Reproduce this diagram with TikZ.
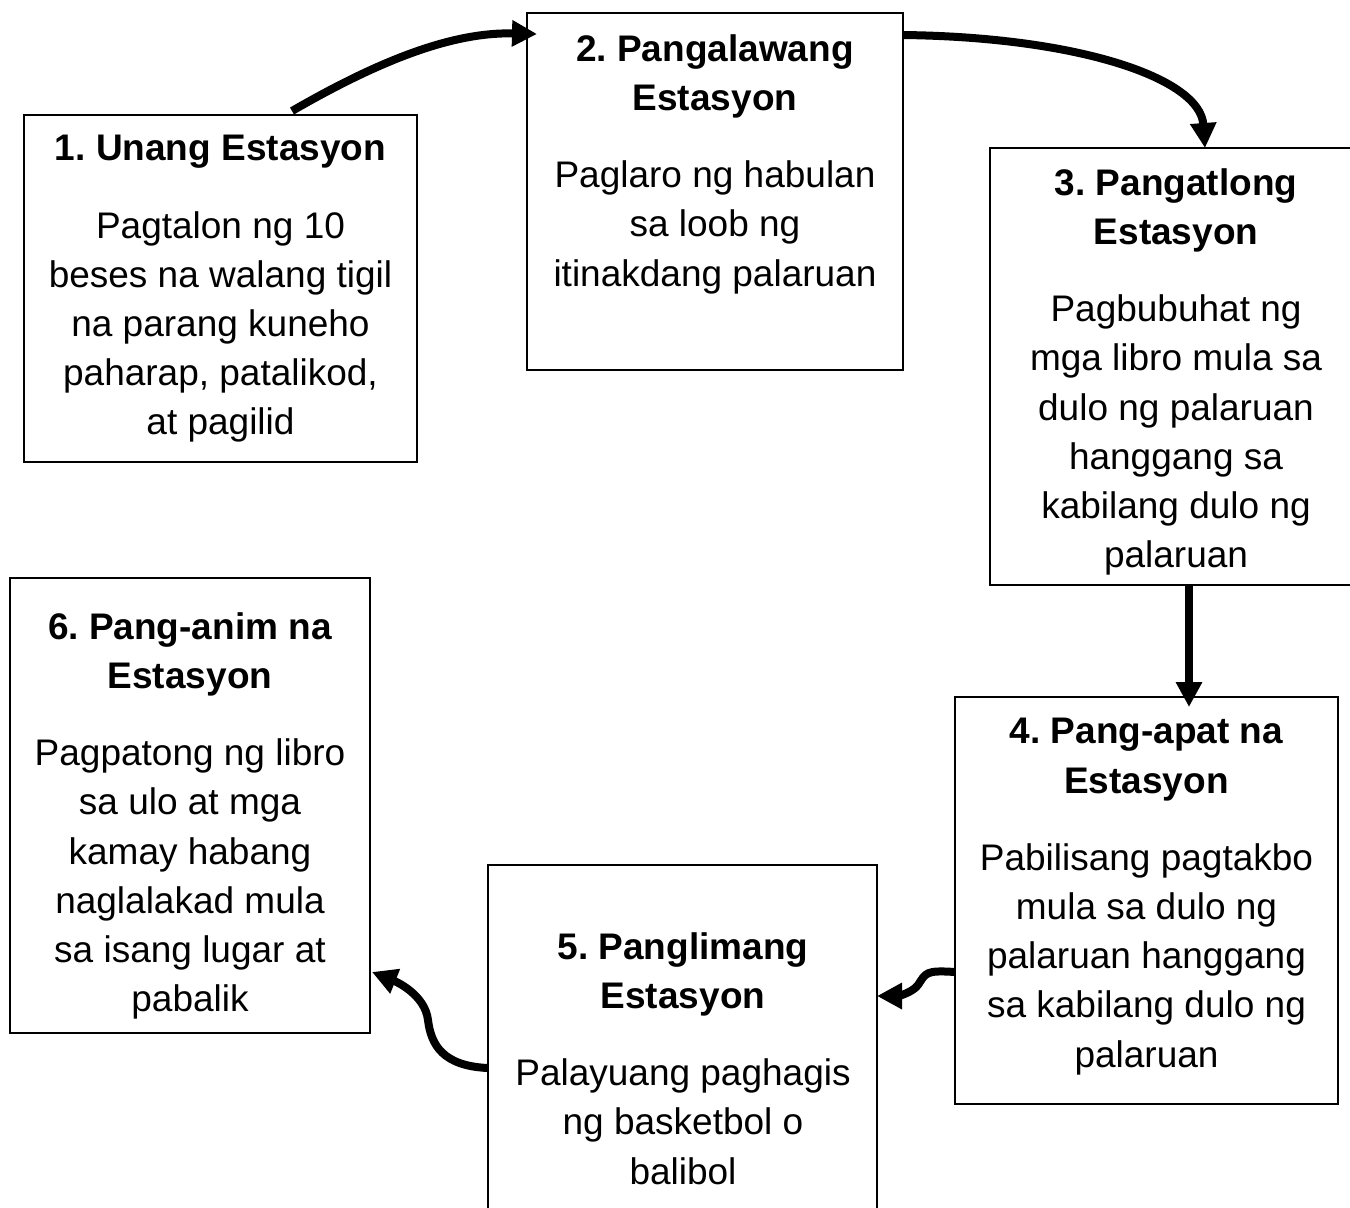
\documentclass[tikz,border=0pt]{standalone}
\usepackage{fontspec}
\setmainfont{Liberation Sans}
\usetikzlibrary{arrows.meta,calc}
\begin{document}
\frenchspacing
\begin{tikzpicture}[x=0.5pt,y=-0.5pt,
  box/.style={draw,line width=1pt,rectangle,anchor=north west,inner sep=0pt,outer sep=0pt},
  txt/.style={anchor=north,align=center,inner sep=0pt,font=\fontsize{18.5}{24.6}\selectfont},
  flow/.style={line width=4pt,-{Triangle[length=12.5pt,width=12.5pt]}}]
\useasboundingbox (0,0) rectangle (1350,1207);
% boxes
\node[box,minimum width=196.5pt,minimum height=173.5pt] (b1) at (24,115) {};
\node[box,minimum width=188pt,minimum height=178.5pt] (b2) at (527,13) {};
\node[box,minimum width=186pt,minimum height=218.5pt] (b3) at (990,148) {};
\node[box,minimum width=191.5pt,minimum height=203.5pt] (b4) at (955,697) {};
\node[box,minimum width=194.5pt,minimum height=182.5pt] (b5) at (488,865) {};
\node[box,minimum width=180pt,minimum height=227.5pt] (b6) at (10,578) {};
% texts
\node[txt] (t1) at (220.5,135) {\textbf{1. Unang Estasyon}\\[14pt]Pagtalon ng 10\\beses na walang tigil\\na parang kuneho\\paharap, patalikod,\\at pagilid};
\node[txt] (t2) at (715,34) {\textbf{2. Pangalawang}\\\textbf{Estasyon}\\[14pt]Paglaro ng habulan\\sa loob ng\\itinakdang palaruan};
\node[txt] (t3) at (1176,168) {\textbf{3. Pangatlong}\\\textbf{Estasyon}\\[14pt]Pagbubuhat ng\\mga libro mula sa\\dulo ng palaruan\\hanggang sa\\kabilang dulo ng\\palaruan};
\node[txt] (t4) at (1146.5,718) {\textbf{4. Pang-apat na}\\\textbf{Estasyon}\\[14pt]Pabilisang pagtakbo\\mula sa dulo ng\\palaruan hanggang\\sa kabilang dulo ng\\palaruan};
\node[txt] (t5) at (683,932) {\textbf{5. Panglimang}\\\textbf{Estasyon}\\[14pt]Palayuang paghagis\\ng basketbol o\\balibol};
\node[txt] (t6) at (190,612) {\textbf{6. Pang-anim na}\\\textbf{Estasyon}\\[14pt]Pagpatong ng libro\\sa ulo at mga\\kamay habang\\naglalakad mula\\sa isang lugar at\\pabalik};
% connectors
\draw[flow] ($(b1.north west)+(268,-4)$) .. controls +(95,-55) and +(-80,-2) .. ($(b2.north west)+(10,21)$);
\draw[flow] ($(b2.north east)+(0,22)$) .. controls +(175,2) and +(-5,-70) .. ($(b3.north west)+(215,0)$);
\draw[flow] ($(b3.south west)+(199,0)$) -- ($(b4.north west)+(234,10)$);
\draw[flow] ($(b4.north west)+(0,275)$) .. controls +(-30,-2) and +(8,-12) .. (918,985) .. controls +(-6,8) and +(20,0) .. ($(b5.north east)+(0,131)$);
\draw[flow] ($(b5.north west)+(0,203)$) .. controls +(-45,-2) and +(3,25) .. (428,1020) .. controls +(-3,-25) and +(25,10) .. ($(b6.north east)+(2,394)$);
\end{tikzpicture}
\end{document}
